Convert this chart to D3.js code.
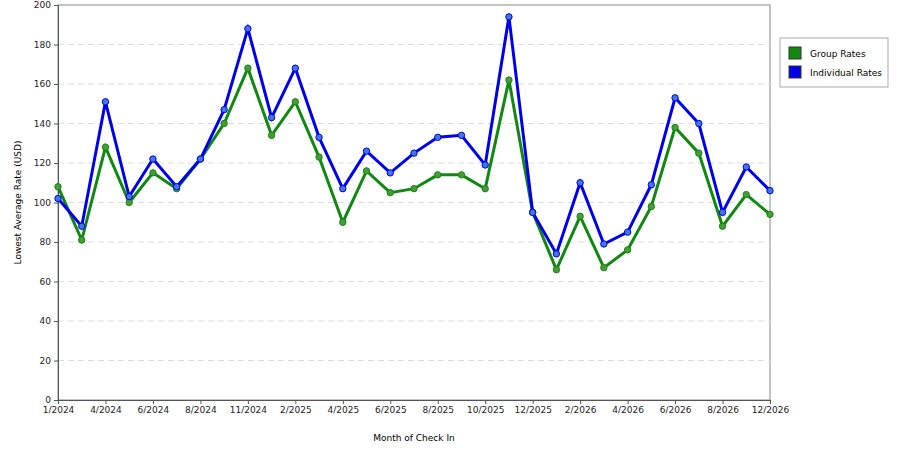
<!DOCTYPE html>
<html><head><meta charset="utf-8">
<script src="https://cdn.jsdelivr.net/npm/d3@7"></script>
<style>body{margin:0;background:#fff;font-family:"DejaVu Sans",sans-serif}</style>
</head><body><svg width="900" height="450"></svg>
<script>
var tickLabels = ["1/2024","4/2024","6/2024","8/2024","11/2024","2/2025","4/2025","6/2025","8/2025","10/2025","12/2025","2/2026","4/2026","6/2026","8/2026","12/2026"];
var groupRates = [108,81,128,100,115,107,122,140,168,134,151,123,90,116,105,107,114,114,107,162,95,66,93,67,76,98,138,125,88,104,94];
var individualRates = [102,88,151,103,122,108,122,147,188,143,168,133,107,126,115,125,133,134,119,194,95,74,110,79,85,109,153,140,95,118,106];
var yTicks = [0,20,40,60,80,100,120,140,160,180,200];

var svg = d3.select("svg");
var plotLeft = 58, plotRight = 770, plotTop = 5, plotBottom = 400;

var x = d3.scaleLinear().domain([0, groupRates.length - 1]).range([plotLeft, plotRight]);
var y = d3.scaleLinear().domain([0, 200]).range([plotBottom, plotTop]);

svg.append("rect").attr("x", plotLeft).attr("y", plotTop).attr("width", plotRight - plotLeft).attr("height", plotBottom - plotTop)
	.attr("fill", "none").attr("stroke", "#888");

svg.append("g").selectAll("line").data(yTicks.slice(1, -1)).join("line")
	.attr("x1", plotLeft).attr("x2", plotRight).attr("y1", d => y(d)).attr("y2", d => y(d))
	.attr("stroke", "#ddd").attr("stroke-dasharray", "6,4");

var yAxis = svg.append("g").attr("transform", "translate(" + plotLeft + ",0)")
	.call(d3.axisLeft(y).tickValues(yTicks).tickSize(4));
var xAxis = svg.append("g").attr("transform", "translate(0," + plotBottom + ")")
	.call(d3.axisBottom(x).tickValues(d3.range(0, 31, 2)).tickFormat((d, i) => tickLabels[i]).tickSize(4));
[xAxis, yAxis].forEach(function (a) {
	a.select(".domain").attr("stroke", "#555");
	a.selectAll("line").attr("stroke", "#555");
	a.selectAll("text").attr("font-size", 9).attr("font-family", "DejaVu Sans").attr("fill", "#222");
});

svg.append("text").attr("x", (plotLeft + plotRight) / 2).attr("y", 441).attr("text-anchor", "middle")
	.attr("font-size", 9).text("Month of Check In");
svg.append("text").attr("transform", "translate(21," + (plotTop + plotBottom) / 2 + ") rotate(-90)")
	.attr("text-anchor", "middle").attr("font-size", 9).text("Lowest Average Rate (USD)");

var line = d3.line().x((d, i) => x(i)).y(d => y(d));
var series = [
	{values: groupRates, color: "#118811", dot: "#4a9a3a"},
	{values: individualRates, color: "#0000ee", dot: "#4477dd"}
];
series.forEach(function (s) {
	svg.append("path").datum(s.values).attr("d", line).attr("fill", "none")
		.attr("stroke", s.color).attr("stroke-width", 3);
});
series.forEach(function (s) {
	svg.append("g").selectAll("circle").data(s.values).join("circle")
		.attr("cx", (d, i) => x(i)).attr("cy", d => y(d)).attr("r", 3.2)
		.attr("fill", s.dot).attr("stroke", s.color).attr("stroke-width", 1);
});

var lg = svg.append("g");
lg.append("rect").attr("x", 780).attr("y", 38).attr("width", 108).attr("height", 49)
	.attr("fill", "#fff").attr("stroke", "#aaa");
[["Group Rates", "#118811"], ["Individual Rates", "#0000ee"]].forEach(function (d, i) {
	lg.append("rect").attr("x", 789).attr("y", 47 + i * 19).attr("width", 12).attr("height", 12)
		.attr("fill", d[1]).attr("stroke", "#333");
	lg.append("text").attr("x", 810).attr("y", 57 + i * 19).attr("font-size", 9).text(d[0]);
});
</script></body></html>
